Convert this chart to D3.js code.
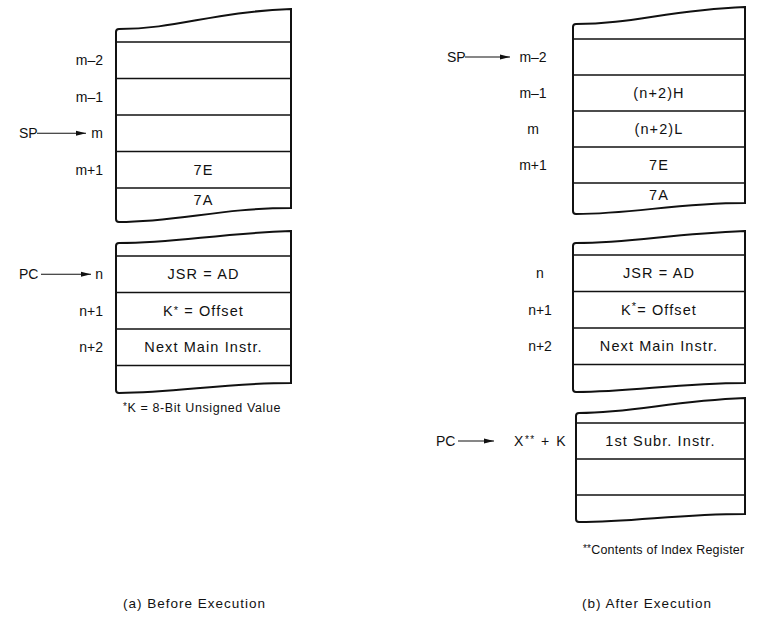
<!DOCTYPE html>
<html>
<head>
<meta charset="utf-8">
<script src="https://cdn.jsdelivr.net/npm/d3@7"></script>
<style>
body{margin:0;background:#fff}
text{font-family:"Liberation Sans",Arial,sans-serif;fill:#111}
</style>
</head>
<body>
<svg id="chart"></svg>
<script>
// stack contents
var aStackLabels = ["m\u20132", "m\u20131", "m", "m+1"]
var aStackCells = ["", "", "", "7E", "7A"]
var aProgLabels = ["n", "n+1", "n+2"]
var aProgCells = ["JSR = AD", "K* = Offset", "Next Main Instr."]

var bStackLabels = ["m\u20132", "m\u20131", "m", "m+1"]
var bStackCells = ["", "(n+2)H", "(n+2)L", "7E", "7A"]
var bProgLabels = ["n", "n+1", "n+2"]
var bProgCells = ["JSR = AD", "K*= Offset", "Next Main Instr."]
var bSubLabels = ["X** + K", ""]
var bSubCells = ["1st Subr. Instr.", ""]

var width = 769
var height = 617

var svg = d3.select("#chart")
    .attr("width", width)
    .attr("height", height)

var defs = svg.append("defs")
defs.append("marker")
    .attr("id", "head")
    .attr("viewBox", "0 0 10 6")
    .attr("refX", 10).attr("refY", 3)
    .attr("markerWidth", 10).attr("markerHeight", 6)
    .attr("markerUnits", "userSpaceOnUse")
    .attr("orient", "auto")
    .append("path")
    .attr("d", "M0,0.6 L10,3 L0,5.4 Z")
    .attr("fill", "#111")

// text with a raised star (K*, X**)
var starText = function(t, d, starDy, size){
    var k = d.indexOf("*")
    if(k < 0){ t.text(d); return }
    var k2 = d.lastIndexOf("*")
    t.append("tspan").text(d.slice(0, k))
    t.append("tspan").text(d.slice(k, k2 + 1)).attr("font-size", size).attr("dy", starDy)
    t.append("tspan").text(d.slice(k2 + 1)).attr("dy", -starDy)
}

// one memory box with wavy top and bottom
var drawBox = function(box, labels, cells, opt){
    var n = labels.length
    var y = d3.scaleLinear().domain([0, n]).range([box.first, box.first + n*box.rowH])
    var g = svg.append("g")

    // outline
    var p = d3.path()
    var w = box.x1 - box.x0
    p.moveTo(box.x0 + 3, box.topL)
    p.bezierCurveTo(box.x0 + w*0.35, box.topL, box.x0 + w*0.55, box.topR + 3, box.x1, box.topR)
    p.lineTo(box.x1, box.botR)
    p.bezierCurveTo(box.x0 + w*0.6, box.botR, box.x0 + w*0.35, box.botL, box.x0 + 3, box.botL)
    p.quadraticCurveTo(box.x0, box.botL, box.x0, box.botL - 3)
    p.lineTo(box.x0, box.topL + 3)
    p.quadraticCurveTo(box.x0, box.topL, box.x0 + 3, box.topL)
    g.append("path")
        .attr("d", p.toString())
        .attr("fill", "none")
        .attr("stroke", "#111")
        .attr("stroke-width", 2)

    // row lines
    g.selectAll("line.row")
        .data(d3.range(n + 1))
        .enter()
        .append("line")
        .attr("class", "row")
        .attr("x1", box.x0).attr("x2", box.x1)
        .attr("y1", function(d){ return y(d) })
        .attr("y2", function(d){ return y(d) })
        .attr("stroke", "#111")
        .attr("stroke-width", 1.6)

    // cell text
    var cx = (box.x0 + box.x1)/2
    g.selectAll("text.cell")
        .data(cells)
        .enter()
        .append("text")
        .attr("class", "cell")
        .attr("x", cx)
        .attr("y", function(d, i){ return i < n ? y(i + 0.5) : y(n) + 12 })
        .attr("dy", "0.35em")
        .attr("text-anchor", "middle")
        .attr("font-size", 14.5)
        .attr("letter-spacing", 1.1)
        .each(function(d){ starText(d3.select(this), d, opt.starDy, 11) })

    // address labels
    g.selectAll("text.addr")
        .data(labels)
        .enter()
        .append("text")
        .attr("class", "addr")
        .attr("x", opt.labelX)
        .attr("y", function(d, i){ return y(i + 0.5) })
        .attr("dy", "0.35em")
        .attr("text-anchor", opt.anchor)
        .attr("font-size", 14)
        .attr("letter-spacing", opt.spacing || 0)
        .each(function(d){ starText(d3.select(this), d, -3, 10) })
    return y
}

var pointer = function(name, x0, x1, yy){
    svg.append("text")
        .attr("x", x0).attr("y", yy).attr("dy", "0.35em")
        .attr("font-size", 14)
        .text(name)
    var tw = name == "SP" ? 17 : 21
    svg.append("line")
        .attr("x1", x0 + tw + 1).attr("x2", x1)
        .attr("y1", yy).attr("y2", yy)
        .attr("stroke", "#111").attr("stroke-width", 1.1)
        .attr("marker-end", "url(#head)")
}

// (a) before execution
var yA1 = drawBox({x0:116, x1:291, topL:29, topR:9, first:42, rowH:36.5, botL:222, botR:208},
    aStackLabels, aStackCells, {labelX:103, anchor:"end", starDy:-2})
var yA2 = drawBox({x0:116, x1:291, topL:243, topR:231, first:256, rowH:36.5, botL:393, botR:383},
    aProgLabels, aProgCells, {labelX:103, anchor:"end", starDy:-2})
pointer("SP", 19, 86, yA1(2.5))
pointer("PC", 19, 91, yA2(0.5))

// (b) after execution
var yB1 = drawBox({x0:573, x1:745, topL:24, topR:7, first:39, rowH:36, botL:214, botR:203},
    bStackLabels, bStackCells, {labelX:533, anchor:"middle", starDy:-5})
var yB2 = drawBox({x0:573, x1:745, topL:243, topR:231, first:255, rowH:36.5, botL:392, botR:383},
    bProgLabels, bProgCells, {labelX:540, anchor:"middle", starDy:-5})
var yB3 = drawBox({x0:576, x1:745, topL:413, topR:398, first:423, rowH:36, botL:522, botR:514},
    bSubLabels, bSubCells, {labelX:567, anchor:"end", starDy:-4, spacing:1.5})
pointer("SP", 447, 510, yB1(0.5))
pointer("PC", 436, 494, yB3(0.5))

// notes and captions
svg.append("text").attr("x", 123).attr("y", 412).attr("font-size", 12.5).attr("letter-spacing", 0.6)
    .each(function(){ starText(d3.select(this), "*K = 8-Bit Unsigned Value", -2, 10) })
svg.append("text").attr("x", 583).attr("y", 554).attr("font-size", 12.5).attr("letter-spacing", 0.2)
    .each(function(){ starText(d3.select(this), "**Contents of Index Register", -2, 10) })
svg.append("text").attr("x", 123).attr("y", 608).attr("font-size", 13.5).attr("letter-spacing", 1)
    .text("(a)  Before Execution")
svg.append("text").attr("x", 582).attr("y", 608).attr("font-size", 13.5).attr("letter-spacing", 1)
    .text("(b)  After Execution")
</script>
</body>
</html>
